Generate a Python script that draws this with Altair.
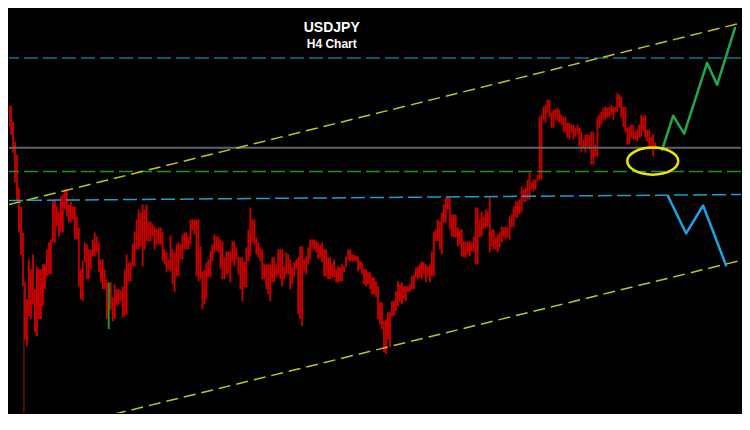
import altair as alt
import pandas as pd

title_main = "USDJPY"
title_sub = "H4 Chart"

# H4 bar highs / lows (chart units, larger = lower on screen).
# Session A bars (even slots)
a_high = [74, 100, 106, 142, 188, 233, 300, 270, 290, 270,
          265, 250, 240, 200, 212, 195, 190, 202, 207, 228,
          262, 245, 250, 233, 243, 260, 280, 283, 285, 290,
          287, 255, 263, 232, 210, 205, 205, 222, 227, 228,
          233, 253, 236, 253, 243, 235, 233, 220, 220, 220,
          272, 263, 252, 235, 237, 242, 252, 252, 242, 258,
          258, 248, 208, 220, 243, 250, 265, 265, 258, 250,
          250, 253, 260, 263, 258, 247, 257, 240, 240, 243,
          243, 250, 258, 260, 267, 265, 257, 250, 255, 257,
          263, 270, 273, 278, 287, 303, 320, 313, 302, 282,
          283, 287, 285, 275, 267, 262, 265, 265, 232, 220,
          213, 198, 198, 215, 228, 230, 242, 242, 237, 208,
          212, 210, 198, 230, 235, 227, 227, 217, 207, 202,
          187, 188, 173, 180, 175, 115, 105, 100, 110, 108,
          115, 117, 123, 125, 125, 132, 135, 135, 132, 118,
          112, 107, 107, 107, 93, 97, 107, 127, 125, 130,
          115, 115, 130, 135]
a_low = [92, 113, 135, 183, 233, 287, 347, 320, 333, 320,
         307, 277, 275, 243, 237, 233, 217, 223, 240, 287,
         302, 280, 270, 257, 273, 290, 320, 310, 320, 305,
         318, 315, 282, 267, 250, 267, 242, 242, 250, 245,
         262, 273, 272, 293, 277, 260, 250, 245, 235, 282,
         310, 300, 278, 253, 253, 280, 275, 283, 267, 275,
         302, 288, 257, 245, 258, 280, 290, 302, 283, 275,
         287, 275, 290, 277, 315, 327, 275, 260, 250, 260,
         263, 277, 280, 278, 283, 282, 268, 262, 262, 272,
         275, 287, 290, 295, 320, 330, 355, 348, 317, 307,
         305, 302, 292, 290, 280, 280, 283, 283, 277, 242,
         255, 223, 230, 238, 247, 257, 258, 257, 253, 265,
         237, 228, 253, 250, 253, 243, 240, 240, 228, 218,
         213, 202, 200, 192, 182, 180, 123, 118, 128, 122,
         125, 133, 140, 140, 135, 152, 153, 150, 165, 157,
         125, 120, 117, 120, 112, 118, 132, 145, 140, 142,
         137, 138, 147, 157]
# Session B bars (odd slots)
b_high = [102, 106, 122, 155, 207, 283, 260, 255, 267, 270,
          265, 243, 200, 207, 197, 190, 205, 207, 217, 270,
          243, 250, 240, 237, 260, 270, 290, 298, 290, 291,
          270, 263, 245, 220, 213, 210, 222, 225, 230, 228,
          250, 260, 250, 245, 245, 233, 237, 220, 220, 247,
          270, 260, 245, 237, 240, 258, 252, 242, 248, 258,
          262, 230, 220, 238, 248, 265, 265, 258, 265, 250,
          267, 255, 268, 260, 247, 260, 248, 240, 242, 245,
          250, 258, 265, 270, 268, 267, 250, 255, 257, 262,
          270, 273, 278, 282, 303, 322, 313, 302, 292, 285,
          287, 287, 277, 268, 265, 263, 267, 252, 230, 222,
          205, 197, 215, 215, 230, 242, 242, 243, 208, 220,
          217, 212, 230, 238, 233, 228, 228, 215, 202, 200,
          190, 180, 183, 180, 117, 107, 100, 113, 110, 110,
          117, 123, 125, 128, 128, 140, 135, 132, 145, 115,
          108, 108, 105, 107, 95, 107, 128, 125, 132, 125,
          117, 130, 137, 143]
b_low = [110, 127, 153, 202, 255, 340, 317, 305, 337, 320,
         290, 275, 243, 227, 233, 210, 223, 220, 240, 300,
         263, 280, 257, 253, 283, 290, 312, 322, 307, 302,
         316, 282, 267, 250, 247, 250, 242, 237, 245, 245,
         265, 270, 285, 277, 260, 250, 250, 231, 277, 280,
         305, 278, 262, 252, 270, 280, 275, 262, 260, 290,
         288, 262, 243, 255, 262, 280, 295, 283, 278, 280,
         280, 275, 285, 270, 320, 272, 265, 248, 253, 258,
         277, 280, 278, 283, 282, 273, 260, 262, 262, 270,
         285, 285, 295, 298, 325, 353, 340, 317, 312, 303,
         300, 293, 290, 278, 278, 275, 277, 277, 242, 250,
         223, 210, 237, 238, 245, 258, 255, 252, 265, 238,
         230, 227, 247, 250, 248, 238, 238, 228, 218, 215,
         202, 200, 190, 190, 180, 120, 113, 128, 120, 123,
         132, 138, 133, 137, 147, 148, 148, 165, 157, 128,
         120, 118, 115, 113, 108, 127, 145, 138, 140, 138,
         132, 142, 147, 150]

green_bar_slot = [53]
green_bar_high = [283]
green_bar_low = [330]

spike_slot = [10.5]
spike_top = [290]
spike_bottom = [414]

resistance_level = [58]
pivot_level = [148]
support_level = [172]

channel_x = [3, 370]
channel_upper = [205, 23]
channel_lower = [441, 261]
neckline = [201, 195]

bull_path_x = [330.5, 336, 341.5, 353, 358, 367]
bull_path_y = [150, 116, 134, 63, 85, 28]
bear_path_x = [333.5, 342.5, 351, 362.5]
bear_path_y = [197, 234, 206, 266]

marker_x = [325.75]
marker_y = [161.5]

title_x = [164.8, 164.8]
title_y = [32, 48]
title_text = [title_main, title_sub]
title_size = [14, 12]

W, H = 734, 406
xs = alt.Scale(domain=[3, 370], nice=False, zero=False)
ys = alt.Scale(domain=[8, 8 + H], reverse=True, nice=False, zero=False)


def X(f):
    return alt.X(f, type="quantitative", scale=xs, axis=None)


def Y(f):
    return alt.Y(f, type="quantitative", scale=ys, axis=None)


rows = []
for n, (h, l) in enumerate(zip(a_high, a_low)):
    rows.append({"k": 2 * n, "hi": h, "lo": l})
for n, (h, l) in enumerate(zip(b_high, b_low)):
    rows.append({"k": 2 * n + 1, "hi": h, "lo": l})
bars_df = pd.DataFrame(rows)

bars = alt.Chart(bars_df).mark_rule(color="#cc0000", strokeWidth=1.8, clip=True).encode(
    x=X("k"), y=Y("hi"), y2="lo")

gbar = alt.Chart(pd.DataFrame({"k": green_bar_slot, "hi": green_bar_high, "lo": green_bar_low})).mark_rule(
    color="#1a9a1a", strokeWidth=2).encode(x=X("k"), y=Y("hi"), y2="lo")

spike = alt.Chart(pd.DataFrame({"k": spike_slot, "hi": spike_top, "lo": spike_bottom})).mark_rule(
    color="#a01818", strokeWidth=1).encode(x=X("k"), y=Y("hi"), y2="lo")

res = alt.Chart(pd.DataFrame({"v": resistance_level})).mark_rule(
    color="#1b6e8c", strokeWidth=1.5, strokeDash=[14, 5]).encode(y=Y("v"))
piv = alt.Chart(pd.DataFrame({"v": pivot_level})).mark_rule(
    color="#5f636a", strokeWidth=2).encode(y=Y("v"))
sup = alt.Chart(pd.DataFrame({"v": support_level})).mark_rule(
    color="#1e931e", strokeWidth=1.5, strokeDash=[14, 5]).encode(y=Y("v"))


def seg(xv, yv, color, dash, width=1.5):
    return alt.Chart(pd.DataFrame({"k": xv, "v": yv})).mark_line(
        color=color, strokeWidth=width, strokeDash=dash, clip=True).encode(x=X("k"), y=Y("v"))


upper = seg(channel_x, channel_upper, "#c4c41a", [12, 6])
lower = seg(channel_x, channel_lower, "#c4c41a", [12, 6])
neck = seg(channel_x, neckline, "#1a9fd0", [14, 5])

bull = alt.Chart(pd.DataFrame({"k": bull_path_x, "v": bull_path_y})).mark_line(
    color="#22a84c", strokeWidth=2.5, strokeJoin="round", strokeCap="round").encode(x=X("k"), y=Y("v"))
bear = alt.Chart(pd.DataFrame({"k": bear_path_x, "v": bear_path_y})).mark_line(
    color="#1aa5e0", strokeWidth=2.5, strokeJoin="round", strokeCap="round").encode(x=X("k"), y=Y("v"))

ellipse = alt.Chart(pd.DataFrame({"k": marker_x, "v": marker_y})).mark_point(
    shape="M -1 0 A 1 0.53 0 1 0 1 0 A 1 0.53 0 1 0 -1 0 Z",
    size=2601, filled=False, color="#f0e400", strokeWidth=2.5, opacity=1).encode(x=X("k"), y=Y("v"))

titles = alt.Chart(pd.DataFrame({"k": title_x, "v": title_y, "t": title_text, "s": title_size})).mark_text(
    font="Liberation Sans", fontWeight="bold", color="white", align="center", baseline="alphabetic").encode(
    x=X("k"), y=Y("v"), text="t:N", size=alt.Size("s:Q", scale=None, legend=None))

chart = alt.layer(bars, gbar, spike, res, piv, sup, upper, lower, neck, bull, bear, ellipse, titles).properties(
    width=W, height=H, padding=0, background="#000000",
    autosize=alt.AutoSizeParams(type="fit", contains="padding"),
).configure_view(stroke=None)

chart.save("out.html", embed_options={"renderer": "svg", "actions": False})
